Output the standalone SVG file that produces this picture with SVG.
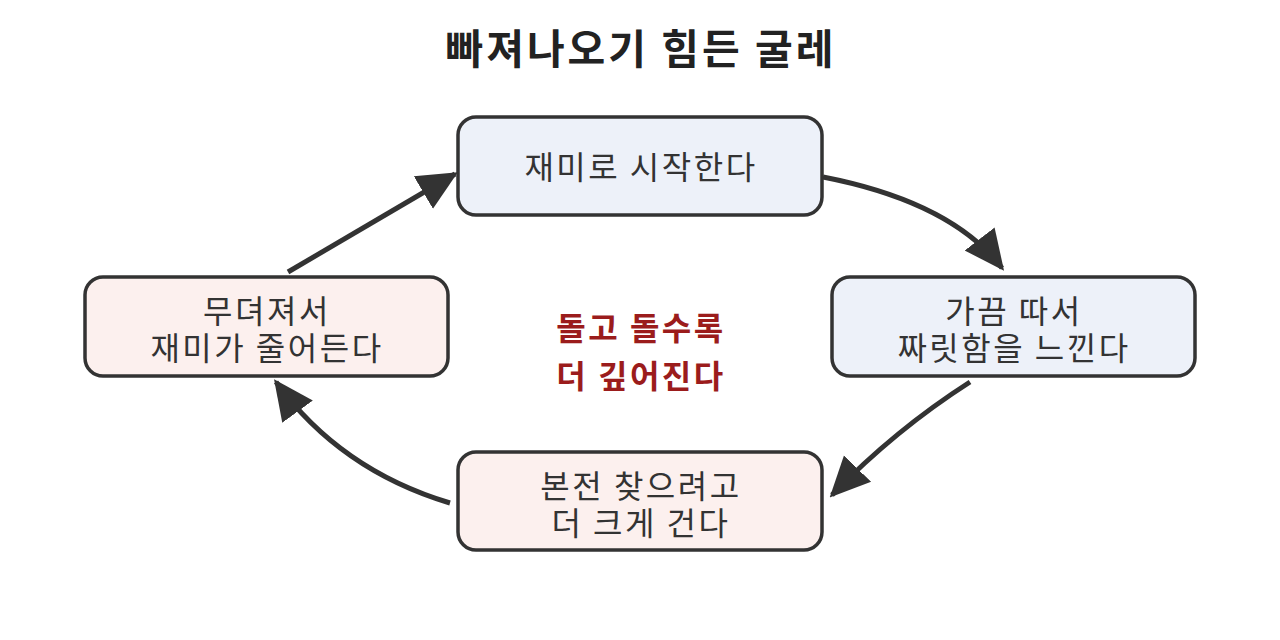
<svg xmlns="http://www.w3.org/2000/svg" width="1280" height="640" viewBox="0 0 1280 640">
<style>
.title{font-family:"Noto Sans CJK KR","Noto Sans",sans-serif;font-size:41px;font-weight:700;fill:#222;text-anchor:middle;letter-spacing:3px}
.box{stroke:#333;stroke-width:3.5}
.blue{fill:#edf1f9}
.pink{fill:#fcf0ee}
.lbl{font-family:"Noto Sans CJK KR","Noto Sans",sans-serif;font-size:32px;fill:#333;text-anchor:middle;letter-spacing:2.5px}
.center{font-family:"Noto Sans CJK KR","Noto Sans",sans-serif;font-size:32px;font-weight:700;fill:#9b1c1c;text-anchor:middle;letter-spacing:2.5px}
.edge{fill:none;stroke:#333;stroke-width:5}
</style>
<defs>
<marker id="ah" markerUnits="userSpaceOnUse" markerWidth="40" markerHeight="40" viewBox="0 0 36 34" refX="33" refY="17" orient="auto">
<path d="M0,0 L36,17 L0,34 z" fill="#333"/>
</marker>
</defs>
<rect width="1280" height="640" fill="#fff"/>
<text class="title" x="641" y="64">빠져나오기 힘든 굴레</text>
<g id="connectors">
<path class="edge" d="M823,177 C900,192 965,220 1002,268" marker-end="url(#ah)"/>
<path class="edge" d="M970,382 Q895,430 832,495" marker-end="url(#ah)"/>
<path class="edge" d="M450,503 Q340,470 276,382" marker-end="url(#ah)"/>
<path class="edge" d="M288,272 L455,174" marker-end="url(#ah)"/>
</g>
<g id="n1">
<rect class="box blue" x="458" y="117" width="364" height="98" rx="18"/>
<text class="lbl" x="641" y="179">재미로 시작한다</text>
</g>
<g id="n2">
<rect class="box blue" x="832" y="277" width="363" height="99" rx="18"/>
<text class="lbl" x="1014" y="323">가끔 따서</text>
<text class="lbl" x="1014" y="360">짜릿함을 느낀다</text>
</g>
<g id="n3">
<rect class="box pink" x="458" y="452" width="364" height="98" rx="18"/>
<text class="lbl" x="641" y="498">본전 찾으려고</text>
<text class="lbl" x="641" y="535">더 크게 건다</text>
</g>
<g id="n4">
<rect class="box pink" x="85" y="277" width="363" height="99" rx="18"/>
<text class="lbl" x="267" y="323">무뎌져서</text>
<text class="lbl" x="267" y="360">재미가 줄어든다</text>
</g>
<g id="center">
<text class="center" x="641" y="340">돌고 돌수록</text>
<text class="center" x="641" y="388">더 깊어진다</text>
</g>
</svg>
